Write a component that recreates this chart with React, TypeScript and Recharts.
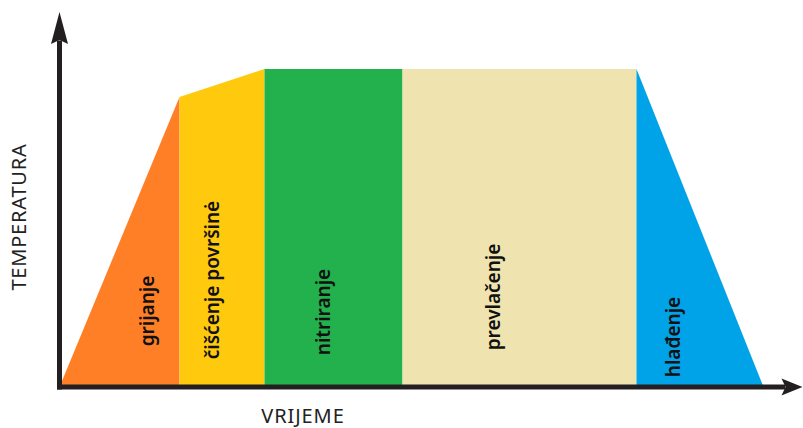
import React from 'react';
import { ComposedChart, Area, XAxis, YAxis, ReferenceDot, Label } from 'recharts';

// Time points (arbitrary units) where the temperature profile changes
const times = [0, 120, 205, 343, 577, 704];
// Temperature (arbitrary units) of each phase; null where the phase is not active
const grijanje = [0, 290, null, null, null, null];
const ciscenje = [null, 290, 318, null, null, null];
const nitriranje = [null, null, 318, 318, null, null];
const prevlacenje = [null, null, null, 318, 318, null];
const hladenje = [null, null, null, null, 318, 0];

const phaseKeys = ['grijanje', 'ciscenje', 'nitriranje', 'prevlacenje', 'hladenje'];
const phaseNames = ['grijanje', 'čišćenje površinė', 'nitriranje', 'prevlačenje', 'hlađenje'];
const phaseColors = ['#FF7F27', '#FFC90E', '#22B14C', '#EFE4B0', '#00A2E8'];
// Label anchor positions in data units (time, temperature)
const labelTimes = [87.5, 152.5, 263.5, 433.5, 613.5];
const labelTemps = [76, 107, 75, 90, 50];

const xTitle = 'VRIJEME';
const yTitle = 'TEMPERATURA';

const X_MAX = 723;
const Y_MAX = 344;

const seriesValues = [grijanje, ciscenje, nitriranje, prevlacenje, hladenje];
const data = times.map((t, i) => {
  const row: Record<string, number | null> = { t };
  phaseKeys.forEach((k, j) => {
    row[k] = seriesValues[j][i];
  });
  return row;
});

const AXIS_COLOR = '#231F20';

const UpArrow = (p: any) => {
  const { cx, cy } = p;
  if (cx == null || cy == null) return null;
  const pts = [
    [cx, cy - 31],
    [cx + 8.5, cy + 1],
    [cx, cy - 3],
    [cx - 8.5, cy + 1],
  ]
    .map((q) => q.join(','))
    .join(' ');
  return <polygon points={pts} fill={AXIS_COLOR} />;
};

const RightArrow = (p: any) => {
  const { cx, cy } = p;
  if (cx == null || cy == null) return null;
  const pts = [
    [cx + 20, cy],
    [cx - 1, cy - 8.5],
    [cx + 3, cy],
    [cx - 1, cy + 8.5],
  ]
    .map((q) => q.join(','))
    .join(' ');
  return <polygon points={pts} fill={AXIS_COLOR} />;
};

const makeLabel = (text: string) => (p: any) => {
  const { cx, cy } = p;
  if (cx == null || cy == null) return null;
  return (
    <text
      x={cx}
      y={cy}
      transform={`rotate(-90 ${cx} ${cy})`}
      textAnchor="middle"
      dominantBaseline="central"
      fontFamily="'Noto Sans', sans-serif"
      fontSize={19}
      fontWeight={600}
      fill="#111"
    >
      {text}
    </text>
  );
};

export default function App() {
  return (
    <div style={{ position: 'absolute', left: 0, top: 0, width: 803, height: 428, background: '#fff' }}>
      <ComposedChart
        width={803}
        height={428}
        data={data}
        margin={{ top: 43, right: 20.5, bottom: 40, left: 58.5 }}
      >
        {phaseKeys.map((k, i) => (
          <Area
            key={k}
            type="linear"
            dataKey={k}
            fill={phaseColors[i]}
            fillOpacity={1}
            stroke="none"
            connectNulls={false}
            isAnimationActive={false}
            activeDot={false}
            dot={false}
          />
        ))}
        <XAxis
          type="number"
          dataKey="t"
          domain={[0, X_MAX]}
          allowDataOverflow
          tick={false}
          tickLine={false}
          height={1}
          axisLine={{ stroke: AXIS_COLOR, strokeWidth: 5, strokeLinecap: 'square' }}
        >
          <Label
            value={xTitle}
            position="bottom"
            offset={21}
            dx={-118}
            fontFamily="'Noto Sans', sans-serif"
            fontSize={20}
            letterSpacing={0.9}
            fill="#222"
          />
        </XAxis>
        <YAxis
          type="number"
          domain={[0, Y_MAX]}
          allowDataOverflow
          tick={false}
          tickLine={false}
          width={1}
          axisLine={{ stroke: AXIS_COLOR, strokeWidth: 5, strokeLinecap: 'square' }}
        >
          <Label
            value={yTitle}
            position="center"
            angle={-90}
            dx={-40}
            dy={2}
            fontFamily="'Noto Sans', sans-serif"
            fontSize={20}
            letterSpacing={0.8}
            fill="#222"
          />
        </YAxis>
        <ReferenceDot x={0} y={Y_MAX} r={0} ifOverflow="visible" shape={UpArrow} />
        <ReferenceDot x={X_MAX} y={0} r={0} ifOverflow="visible" shape={RightArrow} />
        {phaseNames.map((name, i) => (
          <ReferenceDot
            key={name}
            x={labelTimes[i]}
            y={labelTemps[i]}
            r={0}
            ifOverflow="visible"
            shape={makeLabel(name)}
          />
        ))}
      </ComposedChart>
    </div>
  );
}
